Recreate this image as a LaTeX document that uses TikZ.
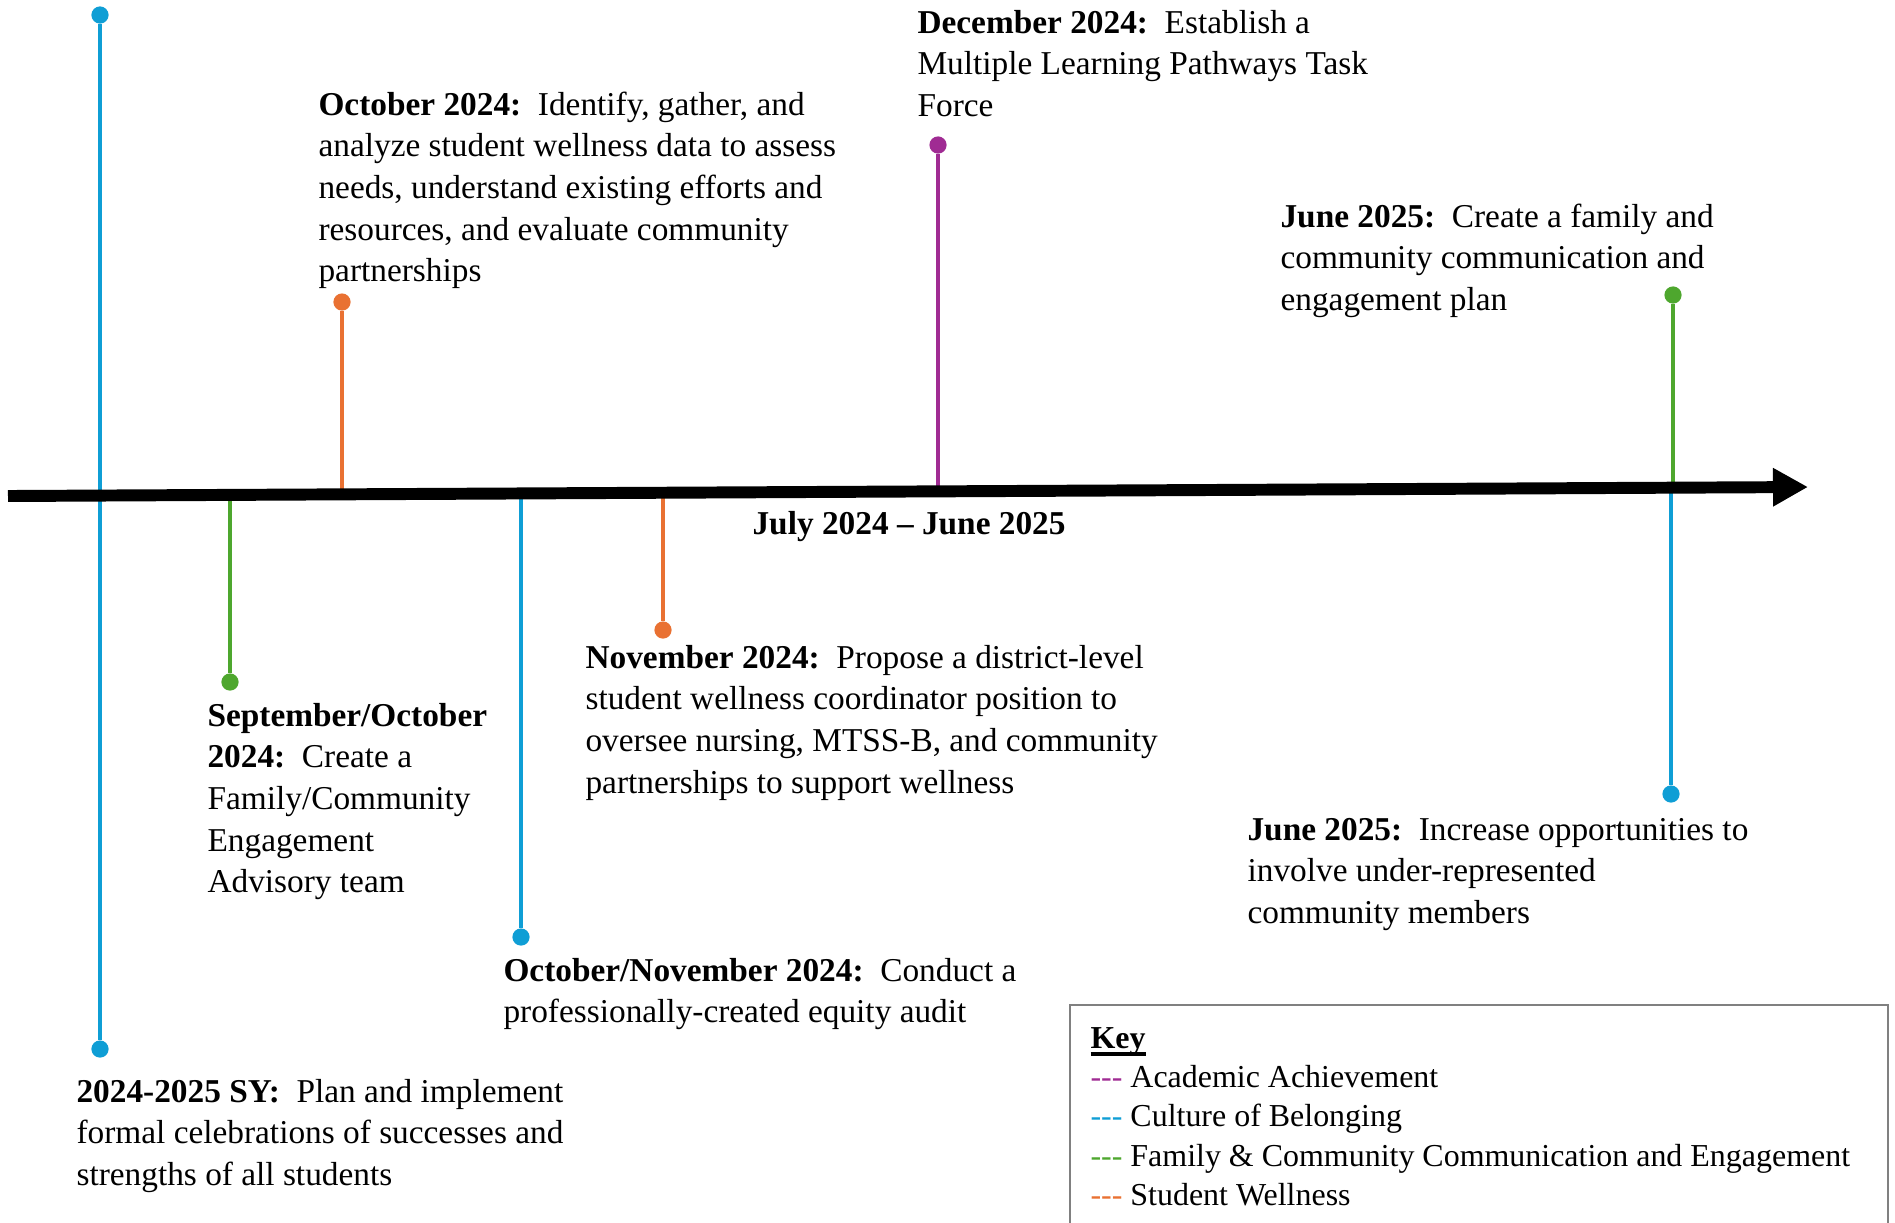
\documentclass[tikz,border=0pt]{standalone}
\usepackage{fontspec}
\setmainfont{Liberation Serif}
\usetikzlibrary{arrows.meta}

\definecolor{acadcol}{HTML}{A02B93}
\definecolor{belongcol}{HTML}{0F9ED5}
\definecolor{famcol}{HTML}{4EA72E}
\definecolor{wellcol}{HTML}{E97132}

\newsavebox{\keybox}
\newcommand{\keyline}[1]{\sbox{\keybox}{#1}\rlap{\rule[-2.8pt]{\wd\keybox}{1.2pt}}\usebox{\keybox}}
\newcommand{\colgap}{\hspace{0.5em}}
\newcommand{\keydash}[1]{\textcolor{#1}{-\kern0pt-\kern0pt-}}

\tikzset{
  event/.style={anchor=base west, inner sep=0pt, text width=300pt, align=flush left, font=\fontsize{12}{15}\selectfont},
  stem/.style={line width=1.1pt},
  dot/.style={circle, fill, inner sep=0pt, minimum size=6.2pt},
}

\begin{document}
\begin{tikzpicture}[x=0.36pt,y=-0.36pt]
\useasboundingbox (0,0) rectangle (1895,1222);

% end points of the time line
\coordinate (start) at (8,496);
\coordinate (end) at (1808,487);

% dots
\node[dot,belongcol] (syTop) at (100,15) {};
\node[dot,belongcol] (syBot) at (100,1049) {};
\node[dot,wellcol] (oct) at (342,302) {};
\node[dot,famcol] (sep) at (230,682) {};
\node[dot,belongcol] (octnov) at (521,937) {};
\node[dot,wellcol] (nov) at (663,630) {};
\node[dot,acadcol] (dec) at (938,145) {};
\node[dot,famcol] (junTop) at (1673,295) {};
\node[dot,belongcol] (junBot) at (1671,794) {};

% where the stems meet the time line
\coordinate (octAx) at (342,494);
\coordinate (sepAx) at (230,495);
\coordinate (octnovAx) at (521,493);
\coordinate (novAx) at (663,493);
\coordinate (decAx) at (938,491);
\coordinate (junTopAx) at (1673,488);
\coordinate (junBotAx) at (1671,488);

\draw[stem,belongcol] (syTop) -- (syBot);
\draw[stem,wellcol] (oct) -- (octAx);
\draw[stem,famcol] (sep) -- (sepAx);
\draw[stem,belongcol] (octnov) -- (octnovAx);
\draw[stem,wellcol] (nov) -- (novAx);
\draw[stem,acadcol] (dec) -- (decAx);
\draw[stem,famcol] (junTop) -- (junTopAx);
\draw[stem,belongcol] (junBot) -- (junBotAx);

\draw[line width=4.3pt,-{Triangle[length=12.6pt,width=13pt]}] (start) -- (end);
\node[anchor=base west, inner sep=0pt, font=\fontsize{12}{15}\selectfont\bfseries] (range) at (752,534) {July 2024 -- June 2025};

% texts
\node[event] (octTxt) at (318,115) {\textbf{October 2024:}\colgap Identify, gather, and\\analyze student wellness data to assess\\needs, understand existing efforts and\\resources, and evaluate community\\partnerships};
\node[event] (decTxt) at (917,33) {\textbf{December 2024:}\colgap Establish a\\Multiple Learning Pathways Task\\Force};
\node[event] (junTopTxt) at (1280,227) {\textbf{June 2025:}\colgap Create a family and\\community communication and\\engagement plan};
\node[event] (novTxt) at (585,668) {\textbf{November 2024:}\colgap Propose a district-level\\student wellness coordinator position to\\oversee nursing, MTSS-B, and community\\partnerships to support wellness};
\node[event] (sepTxt) at (207,726) {\textbf{September/October}\\\textbf{2024:}\colgap Create a\\Family/Community\\Engagement\\Advisory team};
\node[event] (octnovTxt) at (503,981) {\textbf{October/November 2024:}\colgap Conduct a\\professionally-created equity audit};
\node[event] (syTxt) at (76,1102) {\textbf{2024-2025 SY:}\colgap Plan and implement\\formal celebrations of successes and\\strengths of all students};
\node[event] (junBotTxt) at (1247,840) {\textbf{June 2025:}\colgap Increase opportunities to\\involve under-represented\\community members};

% key
\draw[gray, line width=0.6pt] (1070,1005) rectangle (1888,1240);
\node[event, font=\fontsize{11.5}{14.2}\selectfont] (key) at (1090,1048) {\keyline{\textbf{Key}}\\
\keydash{acadcol} Academic Achievement\\
\keydash{belongcol} Culture of Belonging\\
\keydash{famcol} Family \& Community Communication and Engagement\\
\keydash{wellcol} Student Wellness};
\end{tikzpicture}
\end{document}
